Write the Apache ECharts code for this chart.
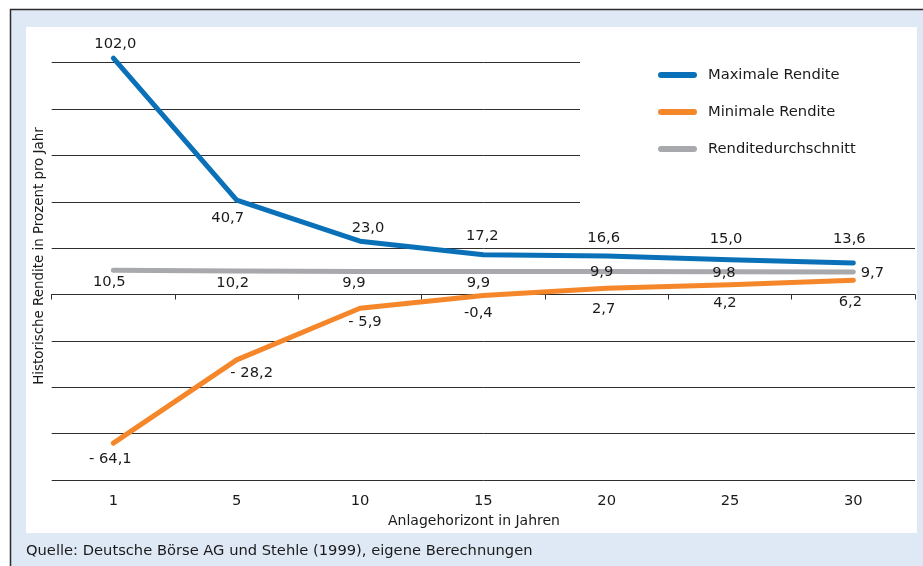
<!DOCTYPE html>
<html>
<head>
<meta charset="utf-8">
<script src="https://cdn.jsdelivr.net/npm/echarts@6/dist/echarts.min.js"></script>
<style>
  html, body { margin: 0; padding: 0; background: #ffffff; }
  #chart { width: 923px; height: 566px; }
</style>
</head>
<body>
<div id="chart"></div>
<script>
// Anlagehorizont (Jahre)
const horizons = ['1', '5', '10', '15', '20', '25', '30'];
// Historische Renditen in Prozent pro Jahr
const maxReturn = [102.0, 40.7, 23.0, 17.2, 16.6, 15.0, 13.6];
const minReturn = [-64.1, -28.2, -5.9, -0.4, 2.7, 4.2, 6.2];
const avgReturn = [10.5, 10.2, 9.9, 9.9, 9.9, 9.8, 9.7];

// label placement relative to each point (dx, dy in px)
const maxLabelShift = [[2, -14], [-9, 18], [8, -13], [-1, -18], [-3, -18], [-4, -21], [-4, -24]];
const minLabelShift = [[-3, 16], [15, 13], [5, 14], [-5, 18], [-3, 21], [-5, 18], [-3, 22]];
const avgLabelShift = [[-4, 12], [-4, 12], [-6, 12], [-5, 12], [-5, 1], [-6, 1], [19, 1]];

const FONT = 'DejaVu Sans';
const TEXT = '#1a1a1a';
const FS = 14.7;

function fmt(v) {
  const s = Math.abs(v).toFixed(1).replace('.', ',');
  if (v < 0) return (v <= -1 ? '- ' : '-') + s;
  return s;
}

function points(values, shifts) {
  return values.map((v, i) => ({
    value: v,
    label: { offset: shifts[i] }
  }));
}

function lineSeries(name, values, shifts, color) {
  return {
    name: name,
    type: 'line',
    data: points(values, shifts),
    clip: false,
    symbol: 'circle',
    symbolSize: 1,
    itemStyle: { color: color },
    lineStyle: { color: color, width: 5, cap: 'round', join: 'round' },
    label: {
      show: true,
      position: 'inside',
      color: TEXT,
      fontFamily: FONT,
      fontSize: FS,
      textBorderWidth: 0,
      formatter: p => fmt(p.value)
    },
    emphasis: { disabled: true },
    z: 3
  };
}

const chart = echarts.init(document.getElementById('chart'), null, { renderer: 'canvas' });

const capsule = 'path://M3,0 H36 A3,3 0 0 1 36,6 H3 A3,3 0 0 1 3,0 Z';

chart.setOption({
  animation: false,
  textStyle: { fontFamily: FONT },
  graphic: [
    { type: 'rect', z: -10, shape: { x: 10.5, y: 9.5, width: 960, height: 600 },
      style: { fill: '#dfe9f5', stroke: '#2b2b2b', lineWidth: 1.5 } },
    { type: 'rect', z: -9, shape: { x: 26, y: 27, width: 891, height: 506 },
      style: { fill: '#ffffff' } },
    // white panel behind the legend
    { type: 'rect', z: 1, shape: { x: 580, y: 40, width: 336, height: 182 },
      style: { fill: '#ffffff' } },
    { type: 'text', z: 5, x: 40, y: 256, rotation: Math.PI / 2,
      style: { text: 'Historische Rendite in Prozent pro Jahr', fill: TEXT,
               font: '13.4px "' + FONT + '"', align: 'center', verticalAlign: 'middle' } },
    { type: 'text', z: 5, x: 474, y: 521,
      style: { text: 'Anlagehorizont in Jahren', fill: TEXT,
               font: '14px "' + FONT + '"', align: 'center', verticalAlign: 'middle' } },
    { type: 'text', z: 5, x: 26, y: 551,
      style: { text: 'Quelle: Deutsche Börse AG und Stehle (1999), eigene Berechnungen', fill: TEXT,
               font: FS + 'px "' + FONT + '"', align: 'left', verticalAlign: 'middle' } }
  ],
  legend: {
    orient: 'vertical',
    left: 653,
    top: 62,
    itemWidth: 39,
    itemHeight: 6,
    itemGap: 21,
    icon: capsule,
    selectedMode: false,
    textStyle: { color: TEXT, fontFamily: FONT, fontSize: FS, lineHeight: 16, padding: [0, 0, 0, 6] },
    data: ['Maximale Rendite', 'Minimale Rendite', 'Renditedurchschnitt'],
    z: 6
  },
  grid: { left: 51.7, right: 8, top: 62.7, bottom: 86, containLabel: false },
  xAxis: [
    {
      type: 'category',
      data: horizons,
      boundaryGap: true,
      position: 'bottom',
      axisLine: { show: true, onZero: true, lineStyle: { color: '#2e2e2e', width: 1 } },
      axisTick: { show: true, length: 5, alignWithLabel: false, lineStyle: { color: '#2e2e2e' } },
      axisLabel: { show: false },
      splitLine: { show: false }
    },
    {
      type: 'category',
      data: horizons,
      boundaryGap: true,
      position: 'bottom',
      axisLine: { show: false, onZero: false },
      axisTick: { show: false },
      axisLabel: { show: true, margin: 14, color: TEXT, fontFamily: FONT, fontSize: FS },
      splitLine: { show: false }
    }
  ],
  yAxis: {
    type: 'value',
    min: -80,
    max: 100,
    interval: 20,
    axisLine: { show: false },
    axisTick: { show: false },
    axisLabel: { show: false },
    splitLine: { show: true, lineStyle: { color: '#2e2e2e', width: 1 } }
  },
  series: [
    lineSeries('Maximale Rendite', maxReturn, maxLabelShift, '#0a71b9'),
    lineSeries('Minimale Rendite', minReturn, minLabelShift, '#f5862a'),
    lineSeries('Renditedurchschnitt', avgReturn, avgLabelShift, '#a8a9ad')
  ]
});
</script>
</body>
</html>
